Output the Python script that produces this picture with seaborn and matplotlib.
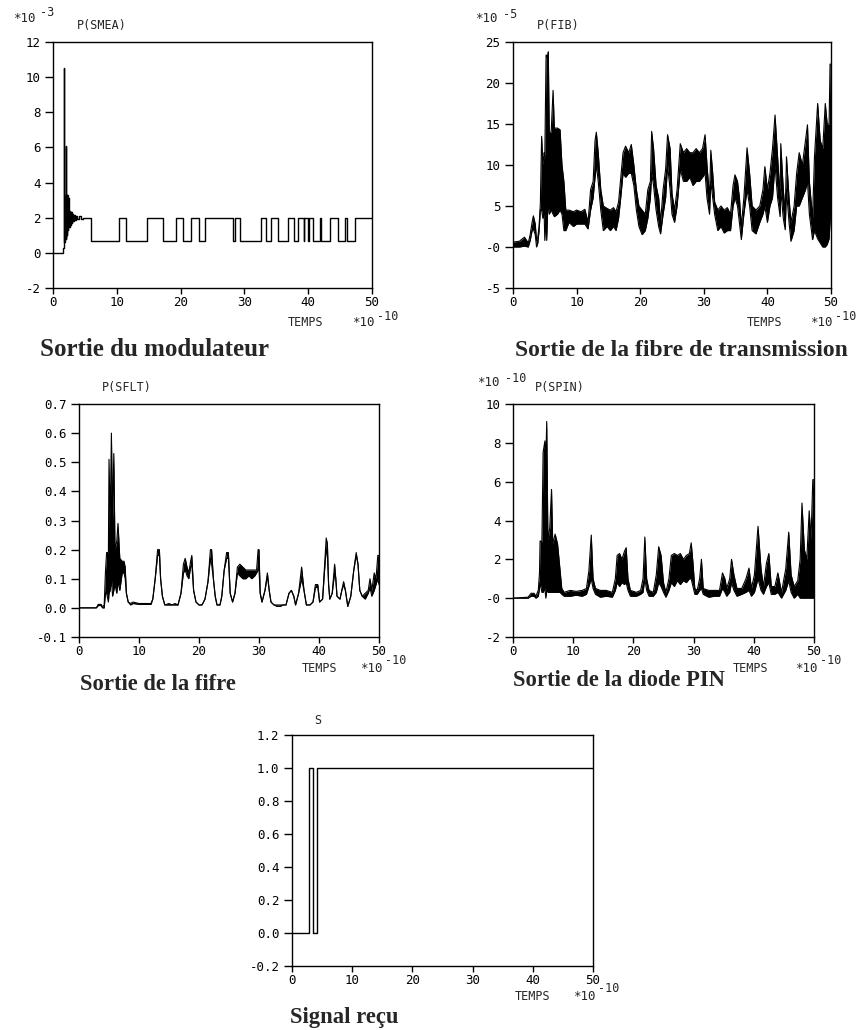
import matplotlib
matplotlib.use("Agg")
import matplotlib.pyplot as plt
import seaborn as sns

W, H = 868, 1030

# ---------------- data ----------------
xticks = [0, 10, 20, 30, 40, 50]
xlabels = ["0", "10", "20", "30", "40", "50"]

# P(SMEA), *10^-3 : transient then square wave (steps-post)
smea_t = [0, 1.5, 1.72, 1.76, 1.95, 2.0, 2.04, 2.08, 2.12, 2.16,
          2.2, 2.24, 2.28, 2.32, 2.36, 2.4, 2.45, 2.5, 2.55, 2.62,
          2.7, 2.8, 2.9, 3.0, 3.1, 3.25, 3.4, 3.6, 3.8, 4.1,
          4.4, 4.7,
          5.9, 10.4, 11.45, 14.8, 17.2, 19.3, 20.3, 21.7, 22.9, 23.8,
          28.2, 28.6, 29.25, 32.6, 33.4, 34.2, 35.25, 36.9, 37.85, 38.4,
          39.3, 39.4, 40.0, 40.1, 40.8, 41.8, 42.0, 43.45, 44.6, 45.8,
          46.05, 47.4, 50.0]
smea_v = [0, 0.25, 10.5, 0.6, 0.9, 6.1, 0.8, 3.3, 1.0, 3.3,
          1.2, 3.3, 1.3, 3.2, 1.4, 3.1, 1.5, 2.9, 1.5, 2.4,
          1.6, 2.3, 1.7, 2.2, 1.8, 2.15, 1.85, 2.1, 1.95, 2.08,
          1.95, 2.0,
          0.68, 2.0, 0.68, 2.0, 0.68, 2.0, 0.68, 2.0, 0.68, 2.0,
          0.68, 2.0, 0.68, 2.0, 0.68, 2.0, 0.68, 2.0, 0.68, 2.0,
          0.68, 2.0, 0.68, 2.0, 0.68, 2.0, 0.68, 2.0, 0.68, 2.0,
          0.68, 2.0, 2.0]

# P(FIB), *10^-5 : lower / upper envelope of the trace
fib_t = [0.0, 1.0, 1.8, 2.4, 2.7, 3.0, 3.2, 3.5, 3.7, 3.9,
         4.1, 4.3, 4.5, 4.7, 4.9, 5.0, 5.2, 5.3, 5.45, 5.55,
         5.7, 6.0, 6.3, 6.5, 7.0, 7.4, 7.7, 8.0, 8.3, 8.8,
         9.5, 10.0, 10.7, 11.3, 11.8, 12.2, 12.6, 12.9, 13.1, 13.4,
         13.8, 14.2, 14.8, 15.3, 15.8, 16.2, 16.6, 17.0, 17.3, 17.7,
         18.2, 18.6, 19.0, 19.4, 19.8, 20.3, 20.8, 21.2, 21.6, 21.8,
         22.1, 22.5, 22.9, 23.2, 23.6, 24.0, 24.3, 24.7, 25.0, 25.4,
         25.8, 26.3, 26.8, 27.3, 27.8, 28.3, 28.8, 29.3, 29.8, 30.2,
         30.5, 30.9, 31.1, 31.4, 31.7, 32.2, 32.7, 33.2, 33.7, 34.2,
         34.6, 34.9, 35.3, 35.6, 35.9, 36.3, 36.8, 37.2, 37.6, 38.2,
         38.8, 39.3, 39.6, 40.0, 40.4, 40.8, 41.2, 41.6, 42.0, 42.1,
         42.5, 42.8, 43.0, 43.4, 43.7, 44.2, 44.6, 45.0, 45.5, 46.0,
         46.3, 46.6, 47.1, 47.4, 47.9, 48.3, 48.7, 49.1, 49.4, 49.7,
         49.85, 50.0]
fib_lo = [0.0, 0.0, 0.1, 0.0, 0.8, 2.0, 2.2, 1.5, 0.0, 0.5,
          2.0, 4.5, 4.5, 3.5, 4.0, 0.8, 4.0, 0.8, 4.5, 5.0,
          4.0, 4.5, 4.0, 3.7, 4.0, 4.5, 4.0, 2.0, 2.0, 3.0,
          2.5, 2.8, 2.8, 2.8, 2.2, 4.5, 6.0, 8.5, 10.0, 8.0,
          4.5, 2.0, 2.5, 2.0, 2.5, 2.0, 3.5, 6.5, 9.0, 8.5,
          9.0, 9.0, 7.5, 4.5, 2.5, 1.5, 2.0, 3.5, 6.0, 9.0,
          7.5, 4.5, 2.5, 1.6, 4.0, 6.0, 10.0, 7.0, 4.0, 3.0,
          5.0, 9.5, 8.0, 8.0, 8.5, 7.5, 8.0, 8.0, 8.5, 9.0,
          6.0, 4.0, 8.0, 6.0, 4.0, 2.0, 2.5, 1.7, 2.0, 2.0,
          5.0, 6.0, 5.0, 3.0, 0.9, 4.0, 7.0, 5.0, 2.0, 1.6,
          3.0, 4.0, 5.0, 3.0, 5.0, 6.0, 10.0, 6.0, 3.7, 7.0,
          3.5, 2.1, 7.0, 3.0, 0.7, 2.0, 5.0, 5.0, 6.0, 7.0,
          8.0, 4.0, 0.9, 2.0, 1.0, 0.5, 0.0, 0.0, 0.3, 1.0,
          3.0, 5.0]
fib_hi = [0.6, 0.7, 1.2, 0.5, 1.5, 3.0, 3.8, 2.8, 0.8, 1.2,
          2.5, 5.3, 13.5, 10.0, 11.5, 11.0, 23.4, 23.4, 23.0, 23.8,
          14.0, 14.0, 19.1, 14.5, 14.5, 14.3, 10.0, 8.0, 4.5, 4.5,
          4.3, 4.5, 4.3, 4.6, 3.0, 7.0, 8.0, 13.0, 14.0, 11.5,
          7.0, 5.0, 4.7, 4.5, 4.8, 4.3, 5.5, 9.0, 11.5, 12.3,
          11.5, 12.5, 10.0, 7.0, 5.0, 4.5, 4.0, 7.0, 8.0, 14.1,
          12.0, 7.5, 6.0, 3.0, 7.0, 9.5, 13.7, 12.0, 6.5, 4.5,
          7.0, 12.6, 11.5, 12.0, 11.5, 11.5, 12.0, 11.5, 12.0, 13.7,
          10.0, 6.0, 11.8, 9.0, 5.5, 4.5, 5.0, 4.5, 4.8, 4.0,
          7.5, 8.8, 8.0, 6.0, 2.5, 6.0, 12.1, 9.0, 5.0, 4.5,
          5.0, 7.0, 9.8, 7.0, 9.0, 12.0, 16.1, 11.0, 6.0, 12.6,
          7.0, 4.0, 11.0, 6.0, 3.0, 5.0, 9.0, 11.5, 10.0, 13.0,
          14.9, 8.0, 3.5, 11.0, 17.5, 13.0, 12.0, 17.5, 15.0, 15.0,
          22.3, 22.3]

# P(SFLT)
sflt_t = [0.0, 2.9, 3.2, 3.7, 3.9, 4.2, 4.4, 4.6, 4.9, 5.0,
          5.2, 5.4, 5.6, 5.8, 6.0, 6.3, 6.5, 6.8, 7.2, 7.5,
          7.7, 7.9, 8.2, 8.6, 9.0, 10.0, 11.0, 12.0, 12.3, 12.7,
          13.1, 13.4, 13.6, 13.9, 14.3, 15.0, 15.5, 16.0, 16.5, 17.0,
          17.4, 17.7, 18.0, 18.3, 18.6, 18.8, 19.1, 19.5, 20.0, 20.5,
          21.0, 21.5, 21.9, 22.1, 22.4, 22.7, 23.0, 23.5, 23.8, 24.2,
          24.6, 24.9, 25.2, 25.6, 26.0, 26.4, 26.8, 27.3, 27.8, 28.3,
          28.8, 29.3, 29.6, 29.85, 30.0, 30.2, 30.5, 31.0, 31.4, 31.7,
          32.0, 32.5, 33.0, 33.5, 34.0, 34.5, 35.0, 35.4, 35.8, 36.1,
          36.6, 37.1, 37.5, 37.9, 38.5, 39.0, 39.4, 39.8, 40.1, 40.6,
          41.0, 41.2, 41.4, 41.6, 41.8, 42.2, 42.6, 42.8, 43.0, 43.5,
          43.8, 44.1, 44.4, 44.8, 45.3, 45.8, 46.2, 46.5, 46.8, 47.2,
          47.7, 48.2, 48.5, 48.8, 49.2, 49.5, 49.8, 50.0]
sflt_lo = [0.0, 0.0, 0.008, 0.008, 0.0, 0.0, 0.05, 0.05, 0.02, 0.05,
           0.06, 0.1, 0.04, 0.06, 0.08, 0.05, 0.09, 0.06, 0.12, 0.12,
           0.1, 0.05, 0.02, 0.01, 0.015, 0.012, 0.012, 0.012, 0.03, 0.1,
           0.18, 0.18, 0.1, 0.04, 0.01, 0.01, 0.01, 0.01, 0.01, 0.05,
           0.12, 0.13, 0.11, 0.1, 0.14, 0.15, 0.06, 0.02, 0.01, 0.01,
           0.03, 0.09, 0.17, 0.15, 0.1, 0.04, 0.01, 0.01, 0.04, 0.13,
           0.17, 0.17, 0.05, 0.02, 0.05, 0.12, 0.11, 0.1, 0.1, 0.11,
           0.1, 0.11, 0.12, 0.13, 0.13, 0.05, 0.02, 0.06, 0.11, 0.06,
           0.02, 0.01, 0.005, 0.005, 0.01, 0.01, 0.05, 0.06, 0.04, 0.01,
           0.05, 0.1, 0.06, 0.01, 0.01, 0.02, 0.07, 0.07, 0.02, 0.03,
           0.15, 0.2, 0.18, 0.08, 0.03, 0.05, 0.12, 0.1, 0.04, 0.03,
           0.06, 0.08, 0.06, 0.005, 0.04, 0.13, 0.18, 0.15, 0.06, 0.04,
           0.03, 0.05, 0.07, 0.04, 0.06, 0.08, 0.1, 0.08]
sflt_hi = [0.0, 0.0, 0.012, 0.012, 0.003, 0.01, 0.12, 0.19, 0.19, 0.51,
           0.3, 0.6, 0.3, 0.53, 0.2, 0.23, 0.29, 0.17, 0.16, 0.16,
           0.14, 0.05, 0.02, 0.015, 0.02, 0.015, 0.015, 0.015, 0.03, 0.1,
           0.2, 0.2, 0.1, 0.04, 0.01, 0.015, 0.01, 0.015, 0.01, 0.05,
           0.15, 0.17, 0.14, 0.12, 0.16, 0.18, 0.06, 0.02, 0.01, 0.01,
           0.03, 0.09, 0.2, 0.2, 0.1, 0.04, 0.01, 0.01, 0.04, 0.13,
           0.19, 0.19, 0.05, 0.02, 0.05, 0.14, 0.15, 0.14, 0.13, 0.13,
           0.13, 0.13, 0.13, 0.2, 0.2, 0.05, 0.02, 0.06, 0.12, 0.06,
           0.02, 0.01, 0.01, 0.01, 0.01, 0.01, 0.05, 0.06, 0.04, 0.01,
           0.05, 0.14, 0.06, 0.01, 0.01, 0.02, 0.08, 0.08, 0.02, 0.03,
           0.17, 0.24, 0.22, 0.08, 0.03, 0.05, 0.15, 0.1, 0.04, 0.03,
           0.06, 0.09, 0.06, 0.005, 0.04, 0.13, 0.19, 0.15, 0.06, 0.04,
           0.05, 0.06, 0.1, 0.06, 0.12, 0.1, 0.18, 0.18]

# P(SPIN), *10^-10
spin_t = [0.0, 2.5, 3.0, 3.5, 3.8, 4.2, 4.4, 4.5, 4.8, 5.0,
          5.3, 5.45, 5.6, 5.8, 6.1, 6.4, 6.6, 7.0, 7.4, 7.8,
          8.1, 8.5, 9.5, 10.5, 11.5, 12.2, 12.6, 13.0, 13.3, 13.7,
          14.5, 15.5, 16.5, 17.0, 17.3, 17.7, 18.1, 18.5, 18.8, 19.1,
          19.5, 20.5, 21.2, 21.6, 21.9, 22.2, 22.6, 23.3, 23.8, 24.2,
          24.6, 25.0, 25.4, 25.9, 26.3, 26.8, 27.3, 27.8, 28.3, 28.8,
          29.3, 29.6, 29.9, 30.2, 30.6, 31.0, 31.3, 31.6, 32.5, 33.5,
          34.3, 34.8, 35.2, 35.5, 36.0, 36.3, 36.7, 37.2, 38.0, 38.7,
          39.2, 39.6, 40.1, 40.7, 41.2, 41.6, 42.1, 42.5, 42.9, 43.5,
          44.0, 44.6, 45.3, 45.8, 46.2, 46.7, 47.3, 47.7, 48.0, 48.4,
          48.8, 49.2, 49.5, 49.8, 50.0]
spin_lo = [0.0, 0.0, 0.1, 0.1, 0.0, 0.1, 0.5, 0.8, 0.3, 0.3,
           0.5, 0.0, 0.4, 0.3, 0.3, 0.3, 0.3, 0.3, 0.3, 0.3,
           0.2, 0.1, 0.1, 0.15, 0.1, 0.2, 0.6, 1.0, 0.5, 0.2,
           0.05, 0.1, 0.05, 0.4, 0.8, 0.6, 0.8, 0.7, 0.8, 0.4,
           0.1, 0.1, 0.2, 0.3, 1.0, 0.4, 0.1, 0.1, 0.3, 0.8,
           0.6, 0.3, 0.05, 0.4, 0.8, 0.6, 0.9, 0.7, 0.9, 0.8,
           1.0, 1.0, 0.6, 0.2, 0.2, 0.4, 0.5, 0.2, 0.05, 0.1,
           0.1, 0.5, 0.3, 0.1, 0.3, 0.8, 0.4, 0.1, 0.2, 0.3,
           0.4, 0.1, 0.3, 1.0, 0.4, 0.2, 0.6, 0.8, 0.2, 0.2,
           0.3, 0.0, 0.4, 0.9, 0.3, 0.0, 0.2, 0.0, 0.0, 0.0,
           0.0, 0.0, 0.0, 0.0, 0.0]
spin_hi = [0.0, 0.05, 0.25, 0.25, 0.1, 0.4, 1.3, 2.95, 2.9, 7.5,
           8.1, 7.0, 9.1, 3.0, 3.6, 5.6, 2.8, 3.3, 2.8, 1.5,
           0.5, 0.3, 0.4, 0.35, 0.4, 0.5, 1.4, 3.25, 1.0, 0.5,
           0.4, 0.4, 0.3, 1.0, 2.2, 2.3, 2.0, 2.4, 2.6, 1.0,
           0.4, 0.3, 0.4, 1.0, 3.15, 1.0, 0.4, 0.3, 1.2, 2.65,
           2.2, 0.8, 0.3, 1.0, 2.2, 2.3, 2.2, 2.3, 2.0, 2.2,
           2.3, 2.85, 1.8, 0.5, 0.4, 1.0, 2.0, 0.5, 0.4, 0.4,
           0.4, 1.3, 1.0, 0.5, 1.0, 2.0, 1.2, 0.5, 0.5, 1.0,
           1.55, 0.5, 1.2, 3.7, 1.5, 0.6, 1.8, 2.3, 0.6, 0.6,
           1.3, 0.3, 1.5, 3.4, 1.2, 0.6, 0.9, 2.0, 4.9, 2.5,
           2.0, 4.5, 3.0, 6.1, 6.1]

# S (signal recu), steps-post
s_t = [0, 2.9, 3.55, 4.2, 50]
s_v = [0, 1, 0, 1, 1]

smea_yticks = [-2, 0, 2, 4, 6, 8, 10, 12]
smea_ylabels = ["-2", "0", "2", "4", "6", "8", "10", "12"]
fib_yticks = [-5, 0, 5, 10, 15, 20, 25]
fib_ylabels = ["-5", "-0", "5", "10", "15", "20", "25"]
sflt_yticks = [-0.1, 0.0, 0.1, 0.2, 0.3, 0.4, 0.5, 0.6, 0.7]
sflt_ylabels = ["-0.1", "0.0", "0.1", "0.2", "0.3", "0.4", "0.5", "0.6", "0.7"]
spin_yticks = [-2, 0, 2, 4, 6, 8, 10]
spin_ylabels = ["-2", "-0", "2", "4", "6", "8", "10"]
s_yticks = [-0.2, 0.0, 0.2, 0.4, 0.6, 0.8, 1.0, 1.2]
s_ylabels = ["-0.2", "0.0", "0.2", "0.4", "0.6", "0.8", "1.0", "1.2"]

# ---------------- drawing ----------------
sns.set_style("ticks")
plt.rcParams["font.family"] = ["DejaVu Sans Mono", "DejaVu Sans"]

fig = plt.figure(figsize=(W / 100, H / 100), dpi=100)
fig.patch.set_facecolor("white")


def make_ax(left, top, right, bottom, ylim, yticks, ylabels):
    ax = fig.add_axes([left / W, 1 - bottom / H, (right - left) / W, (bottom - top) / H])
    ax.set_xlim(0, 50)
    ax.set_ylim(*ylim)
    ax.set_xticks(xticks)
    ax.set_xticklabels(xlabels)
    ax.set_yticks(yticks)
    ax.set_yticklabels(ylabels)
    ax.tick_params(axis="y", length=5.5, width=1, pad=3.5, labelsize=9, colors="black")
    ax.tick_params(axis="x", length=4, width=1, pad=2, labelsize=9, colors="black")
    for sp in ax.spines.values():
        sp.set_linewidth(1.0)
        sp.set_color("black")
    return ax


def txt(x, y, s, size=9, **kw):
    fig.text(x / W, 1 - y / H, s, fontsize=size, va="center", ha="left", **kw)


def title(x, y, s, size=16.3):
    fig.text(x / W, 1 - y / H, s, fontsize=size, fontweight="bold",
             family="Liberation Serif", va="baseline", ha="left")


def band(ax, t, lo, hi, lw=0.9):
    ax.fill_between(t, lo, hi, color="black", lw=0)
    sns.lineplot(x=t, y=hi, ax=ax, color="black", lw=lw, estimator=None, sort=False)
    sns.lineplot(x=t, y=lo, ax=ax, color="black", lw=lw, estimator=None, sort=False)
    ax.set_xlabel("")
    ax.set_ylabel("")


def temps(x_temps, x_mult, y):
    txt(x_temps, y, "TEMPS", size=8.5)
    txt(x_mult, y, "*10", size=9)
    txt(x_mult + 25, y - 7, "-10", size=8.5)


# panel 1 : modulateur
ax1 = make_ax(53, 42, 372, 288, (-2, 12), smea_yticks, smea_ylabels)
sns.lineplot(x=smea_t, y=smea_v, ax=ax1, color="black", lw=1.0,
             estimator=None, sort=False, drawstyle="steps-post")
ax1.set_xlabel("")
ax1.set_ylabel("")
txt(13, 18, "*10")
txt(40, 13, "-3", size=8.5)
txt(77, 26, "P(SMEA)", size=8.5)
temps(288, 352, 323)
title(40, 356, "Sortie du modulateur", size=18)

# panel 2 : fibre
ax2 = make_ax(513, 42, 831, 288, (-5, 25), fib_yticks, fib_ylabels)
band(ax2, fib_t, fib_lo, fib_hi, lw=0.8)
txt(475, 19, "*10")
txt(503, 14, "-5", size=8.5)
txt(537, 26, "P(FIB)", size=8.5)
temps(747, 810, 323)
title(515, 356, "Sortie de la fibre de transmission", size=17)

# panel 3 : filtre
ax3 = make_ax(79, 404, 379, 637, (-0.1, 0.7), sflt_yticks, sflt_ylabels)
band(ax3, sflt_t, sflt_lo, sflt_hi, lw=0.8)
txt(102, 388, "P(SFLT)", size=8.5)
temps(302, 360, 668)
title(80, 690, "Sortie de la fifre")

# panel 4 : diode PIN
ax4 = make_ax(513, 404, 814, 637, (-2, 10), spin_yticks, spin_ylabels)
band(ax4, spin_t, spin_lo, spin_hi, lw=0.8)
txt(477, 383, "*10")
txt(505, 379, "-10", size=8.5)
txt(535, 388, "P(SPIN)", size=8.5)
temps(733, 795, 668)
title(513, 686, "Sortie de la diode PIN")

# panel 5 : signal recu
ax5 = make_ax(292, 735, 593, 966, (-0.2, 1.2), s_yticks, s_ylabels)
sns.lineplot(x=s_t, y=s_v, ax=ax5, color="black", lw=1.0,
             estimator=None, sort=False, drawstyle="steps-post")
ax5.set_xlabel("")
ax5.set_ylabel("")
txt(314, 720, "S", size=8.5)
temps(515, 573, 996)
title(290, 1023, "Signal reçu")

fig.savefig("out.png", dpi=100, facecolor="white")
